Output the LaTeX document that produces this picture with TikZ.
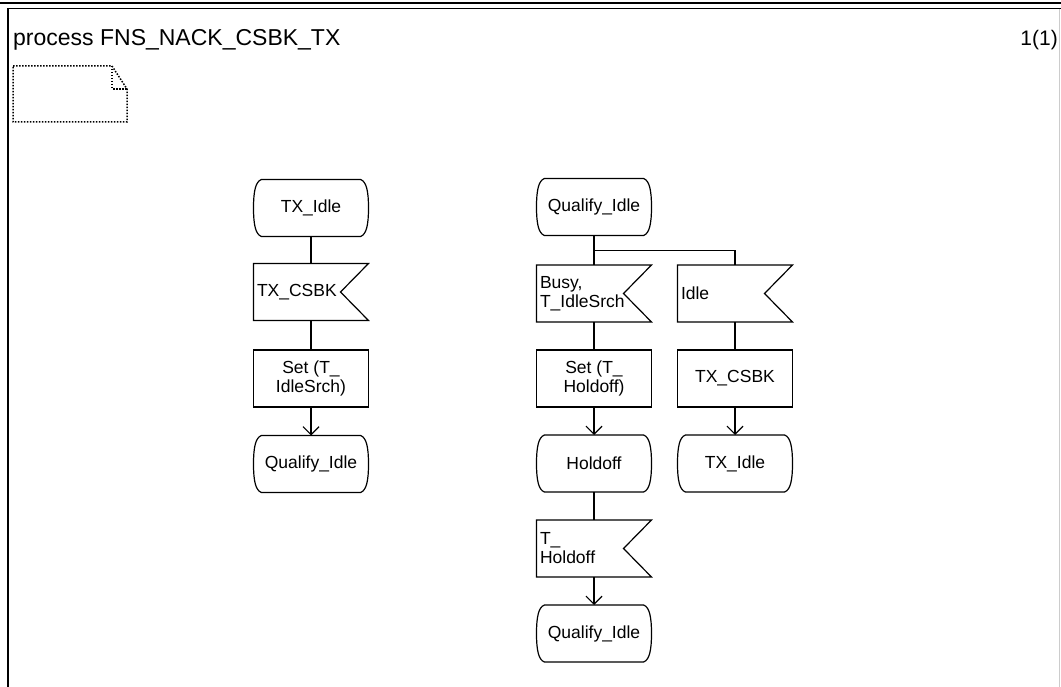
\documentclass[tikz,border=0pt]{standalone}
\usepackage{fontspec}
\setmainfont{Liberation Sans}
\usetikzlibrary{arrows.meta,calc}
\newcommand\stateshape[1]{%
 \draw[ln] ($(#1.north west)+(8,0)$) -- ($(#1.north east)+(-8,0)$)
   .. controls ($(#1.north east)+(-2,2)$) and ($(#1.north east)+(0,12)$) .. (#1.east)
   .. controls ($(#1.south east)+(0,-12)$) and ($(#1.south east)+(-2,-2)$) .. ($(#1.south east)+(-8,0)$)
   -- ($(#1.south west)+(8,0)$)
   .. controls ($(#1.south west)+(2,-2)$) and ($(#1.south west)+(0,-12)$) .. (#1.west)
   .. controls ($(#1.north west)+(0,12)$) and ($(#1.north west)+(2,2)$) .. ($(#1.north west)+(8,0)$) -- cycle;}
\newcommand\inputshape[1]{%
 \draw[ln] (#1.north west) -- (#1.north east) -- ($(#1.east)+(-28,0)$) -- (#1.south east) -- (#1.south west) -- cycle;}
\begin{document}
\begin{tikzpicture}[x=1pt,y=-1pt,
  ln/.style={line width=1.2pt, line join=miter},
  base/.style={rectangle, minimum width=115pt, minimum height=57pt, inner sep=0pt, outer sep=0pt, font=\fontsize{17.5}{19}\selectfont},
  statenode/.style={base, align=center},
  tasknode/.style={base, align=center, draw, line width=1.2pt},
  inputnode/.style={base, inner xsep=3.5pt, text width=108pt, align=left},
  arr/.style={ln,-{Straight Barb[length=8pt,width=16pt,line width=1.2pt]}},
  dotline/.style={line width=1.5pt, dash pattern=on 1.5pt off 1.5pt}
]
\useasboundingbox (0,0) rectangle (1061,687);
% frame
\draw[line width=2pt] (0,3) -- (1061,3);
\draw[line width=1pt] (8,8.5) -- (1061,8.5);
\draw[line width=1.5pt] (8,8.5) -- (8,687);
\draw[line width=1pt, black!20] (1059.5,9) -- (1059.5,687);
% title
\node[anchor=base west, inner sep=0pt, font=\fontsize{23}{27}\selectfont] (title) at (13,46) {process FNS\_NACK\_CSBK\_TX};
\node[anchor=base east, inner sep=0pt, font=\fontsize{21}{26}\selectfont] (page) at (1058,46) {1(1)};
% comment symbol
\draw[dotline] (13,66) -- (112,66) -- (127,89) -- (127,122) -- (13,122) -- cycle;
\draw[dotline] (112,66) -- (112,89) -- (127,89);
% left column
\node[statenode] (s1) at (311,208) {TX\_Idle};
\node[inputnode] (i1) at (311,292) {TX\_CSBK};
\node[tasknode] (t1) at (311,378.5) {Set (T\_\\IdleSrch)};
\node[statenode] (s2) at (311,464) {Qualify\_Idle};
% column A
\node[statenode] (s3) at (594,207) {Qualify\_Idle};
\node[inputnode] (i2) at (594,293.5) {Busy,\\T\_IdleSrch};
\node[tasknode] (t2) at (594,378.5) {Set (T\_\\Holdoff)};
\node[statenode] (s4) at (594,463.5) {Holdoff};
\node[inputnode] (i3) at (594,548.5) {T\_\\Holdoff};
\node[statenode] (s5) at (594,633.5) {Qualify\_Idle};
% column B
\node[inputnode] (i4) at (735,293.5) {Idle};
\node[tasknode] (t3) at (735,378.5) {TX\_CSBK};
\node[statenode] (s6) at (735,463.5) {TX\_Idle};
% outlines
\stateshape{s1}\stateshape{s2}\stateshape{s3}\stateshape{s4}\stateshape{s5}\stateshape{s6}
\inputshape{i1}\inputshape{i2}\inputshape{i3}\inputshape{i4}
% connectors
\draw[ln] (s1) -- (i1);
\draw[ln] (i1) -- (t1);
\draw[arr] (t1) -- (s2);
\draw[ln] (s3) -- (i2);
\draw[ln] ($(s3.south)+(0,15)$) -| (i4.north);
\draw[ln] (i2) -- (t2);
\draw[arr] (t2) -- (s4);
\draw[ln] (s4) -- (i3);
\draw[arr] (i3) -- (s5);
\draw[ln] (i4) -- (t3);
\draw[arr] (t3) -- (s6);
\end{tikzpicture}
\end{document}
